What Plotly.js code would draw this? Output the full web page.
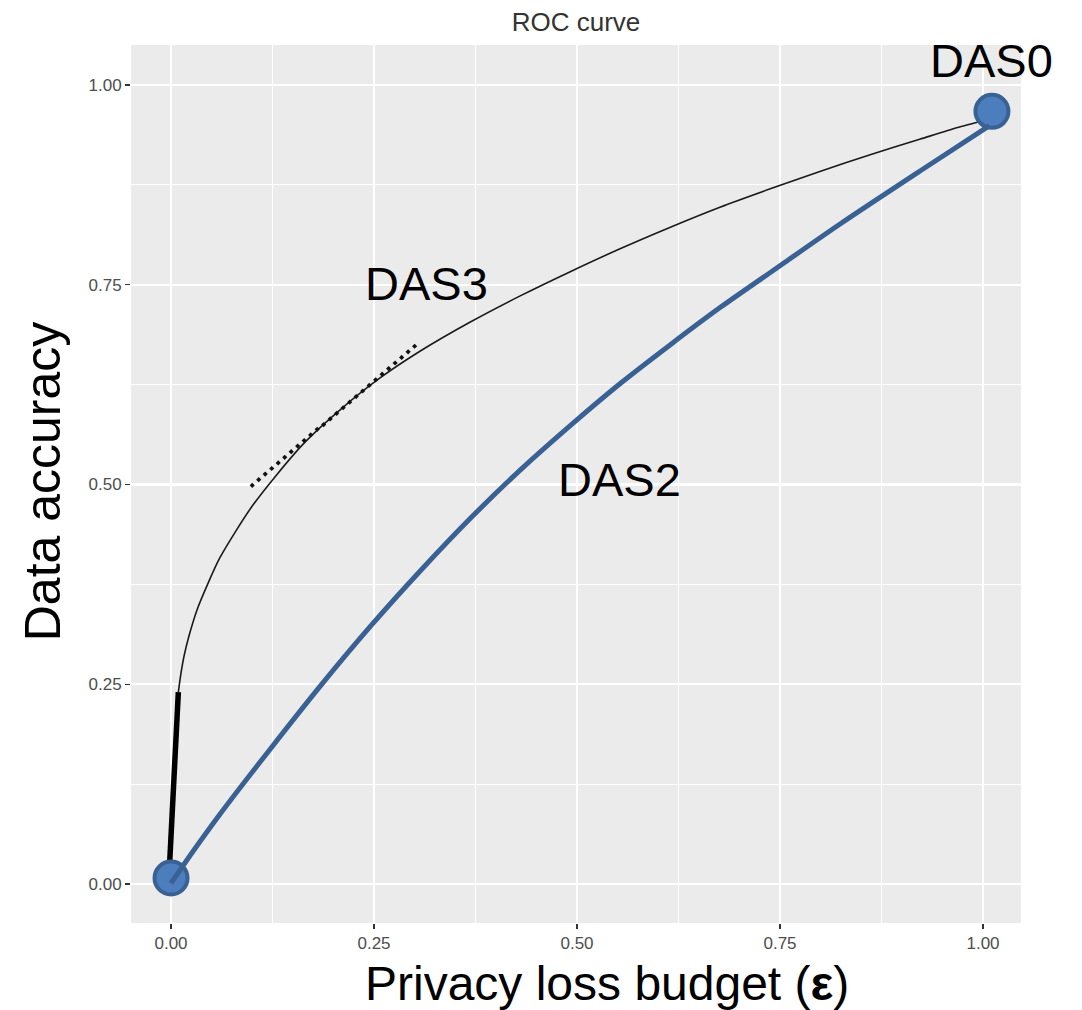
<!DOCTYPE html>
<html>
<head>
<meta charset="utf-8">
<script src="https://cdn.plot.ly/plotly-3.0.1.min.js"></script>
<style>html,body{margin:0;padding:0;background:#fff;}#chart{width:1082px;height:1010px;}</style>
</head>
<body>
<div id="chart"></div>
<script>
// ---- data ----
var das3CurveX = [0.009, 0.012, 0.016, 0.022, 0.032, 0.045, 0.060, 0.080, 0.100, 0.130, 0.165, 0.210, 0.257, 0.307, 0.368, 0.430, 0.491, 0.553, 0.615, 0.676, 0.738, 0.800, 0.862, 0.922, 0.970, 1.012];
var das3CurveY = [0.240, 0.262, 0.285, 0.310, 0.343, 0.375, 0.408, 0.442, 0.473, 0.512, 0.553, 0.595, 0.633, 0.667, 0.703, 0.736, 0.766, 0.795, 0.822, 0.847, 0.870, 0.892, 0.913, 0.932, 0.947, 0.958];

var das1SegX = [-0.003, 0.009];
var das1SegY = [0.000, 0.240];

var das2CurveX = [0.000, 0.030, 0.060, 0.123, 0.184, 0.246, 0.308, 0.369, 0.430, 0.492, 0.554, 0.615, 0.677, 0.739, 0.824, 0.922, 1.008];
var das2CurveY = [0.001, 0.045, 0.087, 0.170, 0.248, 0.323, 0.393, 0.458, 0.518, 0.574, 0.627, 0.675, 0.722, 0.766, 0.826, 0.892, 0.949];

var tangentX = [0.100,0.108,0.116,0.124,0.132,0.140,0.148,0.156,0.164,0.172,0.180,0.188,0.196,0.204,0.212,0.220,0.228,0.236,0.244,0.252,0.260,0.268,0.276,0.284,0.292,0.300];
var tangentY = [0.499,0.506,0.513,0.520,0.527,0.534,0.541,0.548,0.555,0.562,0.569,0.575,0.582,0.589,0.596,0.603,0.610,0.617,0.624,0.631,0.638,0.645,0.652,0.659,0.666,0.673];

var endpointNames = ['DAS1', 'DAS0'];
var endpointX = [0.000, 1.011];
var endpointY = [0.0075, 0.967];

var xTickVals = [0, 0.25, 0.5, 0.75, 1.0];
var yTickVals = [0, 0.25, 0.5, 0.75, 1.0];
var minorTickVals = [0.125, 0.375, 0.625, 0.875];

var labelNames = ['DAS0', 'DAS3', 'DAS2', 'DAS1'];
var labelX = [1.010, 0.315, 0.552, -0.094];
var labelY = [1.030, 0.752, 0.506, 0.048];

// ---- traces ----
var traces = [
  {x: das3CurveX, y: das3CurveY, mode: 'lines', line: {color: '#1a1a1a', width: 1.6, shape: 'spline', smoothing: 0.8}, hoverinfo: 'skip'},
  {x: das1SegX, y: das1SegY, mode: 'lines', line: {color: '#000000', width: 5.5}, hoverinfo: 'skip'},
  {x: tangentX, y: tangentY, mode: 'markers', marker: {color: '#111', size: 4, symbol: 'diamond'}, hoverinfo: 'skip'},
  {x: endpointX, y: endpointY, text: endpointNames, mode: 'markers', marker: {color: '#4C7DBD', size: 33, line: {color: '#3A6194', width: 4}}, hoverinfo: 'skip', cliponaxis: false},
  {x: das2CurveX, y: das2CurveY, mode: 'lines', line: {color: '#3A6194', width: 5, shape: 'spline', smoothing: 0.8}, hoverinfo: 'skip', cliponaxis: false}
];

var fam = 'Liberation Sans, Arial, sans-serif';
var labelFont = {family: fam, size: 47, color: '#000'};
var annotations = labelNames.map(function (t, i) {
  return {text: t, x: labelX[i], y: labelY[i], xref: 'x', yref: 'y', showarrow: false, xanchor: 'center', yanchor: 'middle', font: labelFont};
});
annotations.push({text: 'Privacy loss budget (<b>ε</b>)', xref: 'paper', yref: 'paper', x: 0.535, y: -0.069, showarrow: false, xanchor: 'center', yanchor: 'middle', font: {family: fam, size: 48, color: '#000'}});
annotations.push({text: 'Data accuracy', xref: 'paper', yref: 'paper', x: -0.099, y: 0.503, showarrow: false, xanchor: 'center', yanchor: 'middle', textangle: -90, font: {family: fam, size: 50, color: '#000'}});

var tickFont = {family: fam, size: 17, color: '#4D4D4D'};
function makeAxis(range, vals) {
  return {
    range: range, tickmode: 'array', tickvals: vals, tickformat: '.2f',
    showgrid: true, gridcolor: '#FFFFFF', gridwidth: 2.4,
    zeroline: false, showline: false,
    ticks: 'outside', ticklen: 5, tickwidth: 1.4, tickcolor: '#333333',
    tickfont: tickFont,
    minor: {tickmode: 'array', tickvals: minorTickVals, showgrid: true, gridcolor: '#FFFFFF', gridwidth: 1.1, ticks: ''}
  };
}

var layout = {
  width: 1082, height: 1010,
  margin: {l: 131, r: 61, t: 45, b: 87, pad: 0},
  paper_bgcolor: '#FFFFFF', plot_bgcolor: '#EBEBEB',
  showlegend: false,
  title: {text: 'ROC curve', x: 0.5, xref: 'paper', xanchor: 'center', y: 0.978, yref: 'container', yanchor: 'middle', font: {family: fam, size: 26, color: '#333333'}},
  xaxis: makeAxis([-0.0493, 1.0468], xTickVals),
  yaxis: makeAxis([-0.0488, 1.050], yTickVals),
  annotations: annotations
};

Plotly.newPlot('chart', traces, layout, {staticPlot: true, displayModeBar: false});
</script>
</body>
</html>
